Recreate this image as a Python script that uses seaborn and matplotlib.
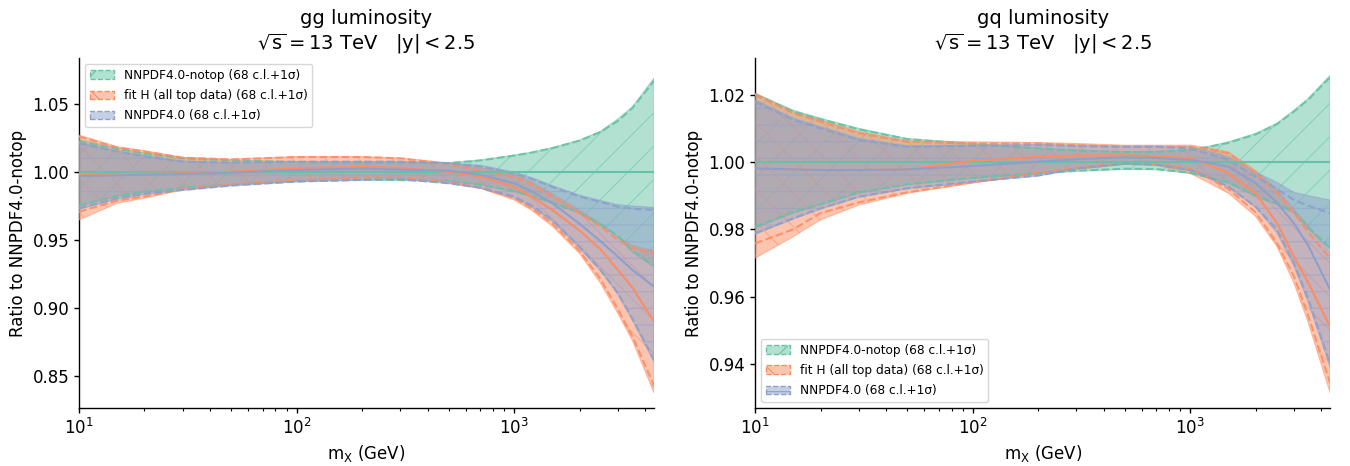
import numpy as np
import pandas as pd
import matplotlib
matplotlib.use("Agg")
import matplotlib.pyplot as plt
from matplotlib.patches import Patch
import seaborn as sns

# ---------------- data ----------------
mx = [10, 15, 20, 30, 50, 100, 200, 300, 500, 700, 1000, 1200, 1500, 2000, 2500, 3000, 3500, 4400]

series_names = ["NNPDF4.0-notop (68 c.l.+1σ)",
                "fit H (all top data) (68 c.l.+1σ)",
                "NNPDF4.0 (68 c.l.+1σ)"]

# gg luminosity
gg_notop_cen = [1.0] * 18
gg_notop_clhi = [1.024, 1.0175, 1.014, 1.0105, 1.0088, 1.0076, 1.0069, 1.0070, 1.0068, 1.0088, 1.0125, 1.0145, 1.018, 1.0235, 1.030, 1.039, 1.048, 1.069]
gg_notop_cllo = [0.975, 0.982, 0.985, 0.988, 0.9904, 0.9929, 0.9941, 0.9938, 0.9932, 0.9904, 0.9855, 0.982, 0.977, 0.9696, 0.961, 0.9525, 0.941, 0.930]
gg_notop_sdhi = [1.0225, 1.017, 1.0135, 1.010, 1.0085, 1.0073, 1.0067, 1.0068, 1.0065, 1.0085, 1.012, 1.0142, 1.0175, 1.023, 1.0295, 1.0375, 1.047, 1.067]
gg_notop_sdlo = [0.9755, 0.9825, 0.9855, 0.9885, 0.9907, 0.9931, 0.9943, 0.9940, 0.9935, 0.9907, 0.9858, 0.9823, 0.9775, 0.970, 0.9615, 0.953, 0.942, 0.931]

gg_fitH_cen = [0.9983, 0.9985, 0.9987, 0.999, 1.0002, 1.0027, 1.0038, 1.0030, 1.000, 0.9966, 0.989, 0.982, 0.972, 0.957, 0.943, 0.928, 0.915, 0.890]
gg_fitH_clhi = [1.0272, 1.0186, 1.0157, 1.0108, 1.0095, 1.0113, 1.0113, 1.0103, 1.0068, 1.003, 0.9985, 0.993, 0.984, 0.972, 0.962, 0.952, 0.946, 0.942]
gg_fitH_cllo = [0.9647, 0.977, 0.9807, 0.9868, 0.9904, 0.9936, 0.9958, 0.9955, 0.992, 0.988, 0.9794, 0.972, 0.960, 0.940, 0.918, 0.896, 0.876, 0.8375]
gg_fitH_sdhi = [1.026, 1.018, 1.015, 1.0105, 1.0092, 1.011, 1.011, 1.010, 1.0058, 1.001, 0.9966, 0.991, 0.982, 0.9696, 0.960, 0.950, 0.944, 0.940]
gg_fitH_sdlo = [0.9708, 0.979, 0.982, 0.9875, 0.9908, 0.9938, 0.9960, 0.9958, 0.9925, 0.9885, 0.981, 0.9735, 0.962, 0.942, 0.921, 0.899, 0.879, 0.843]

gg_nnpdf_cen = [0.997, 0.9975, 0.998, 0.9985, 0.9995, 1.0015, 1.0025, 1.0018, 1.001, 0.998, 0.9917, 0.986, 0.977, 0.962, 0.949, 0.9378, 0.928, 0.9157]
gg_nnpdf_clhi = [1.022, 1.0155, 1.012, 1.008, 1.007, 1.0077, 1.0077, 1.0078, 1.0067, 1.005, 1.0, 0.996, 0.990, 0.983, 0.979, 0.976, 0.975, 0.974]
gg_nnpdf_cllo = [0.9725, 0.980, 0.9835, 0.9865, 0.9898, 0.9928, 0.9940, 0.9945, 0.9915, 0.988, 0.981, 0.9745, 0.9637, 0.944, 0.927, 0.910, 0.891, 0.860]
gg_nnpdf_sdhi = [1.021, 1.015, 1.0115, 1.0076, 1.0069, 1.0076, 1.0076, 1.0076, 1.0064, 1.004, 0.999, 0.995, 0.989, 0.982, 0.978, 0.9745, 0.973, 0.972]
gg_nnpdf_sdlo = [0.9733, 0.9807, 0.984, 0.9868, 0.990, 0.993, 0.9942, 0.9948, 0.9917, 0.9885, 0.982, 0.9755, 0.9647, 0.945, 0.928, 0.911, 0.892, 0.862]

# gq luminosity
gq_notop_cen = [1.0] * 18
gq_notop_clhi = [1.0204, 1.0154, 1.013, 1.010, 1.007, 1.0055, 1.0042, 1.0036, 1.0031, 1.0032, 1.0037, 1.0046, 1.006, 1.0085, 1.0115, 1.0154, 1.019, 1.0258]
gq_notop_cllo = [0.9803, 0.9848, 0.9872, 0.9907, 0.9932, 0.9951, 0.9965, 0.9972, 0.9978, 0.9977, 0.9966, 0.9953, 0.9937, 0.9897, 0.9873, 0.9848, 0.980, 0.9739]
gq_notop_sdhi = [1.0200, 1.0150, 1.0127, 1.0097, 1.0068, 1.0053, 1.0040, 1.0034, 1.0029, 1.003, 1.0035, 1.0044, 1.0057, 1.0082, 1.0112, 1.015, 1.0186, 1.0252]
gq_notop_sdlo = [0.9807, 0.9852, 0.9875, 0.991, 0.9934, 0.9953, 0.9967, 0.9974, 0.998, 0.9979, 0.9968, 0.9955, 0.994, 0.990, 0.9877, 0.9852, 0.9805, 0.9745]

gq_fitH_cen = [0.9981, 0.9978, 0.9976, 0.9976, 0.9978, 1.0003, 1.0015, 1.0019, 1.002, 1.0017, 1.0011, 0.9993, 0.9966, 0.9907, 0.982, 0.9719, 0.964, 0.951]
gq_fitH_clhi = [1.0205, 1.015, 1.0125, 1.009, 1.0063, 1.006, 1.0058, 1.0055, 1.005, 1.005, 1.005, 1.0043, 1.003, 0.9975, 0.992, 0.986, 0.981, 0.973]
gq_fitH_cllo = [0.9714, 0.9778, 0.9828, 0.9872, 0.9907, 0.9937, 0.9965, 0.9978, 0.9993, 0.999, 0.9966, 0.994, 0.9907, 0.9838, 0.975, 0.964, 0.952, 0.9313]
gq_fitH_sdhi = [1.0199, 1.0145, 1.012, 1.0085, 1.006, 1.0055, 1.0055, 1.005, 1.0045, 1.0045, 1.0045, 1.0038, 1.0026, 0.9966, 0.991, 0.9848, 0.979, 0.9714]
gq_fitH_sdlo = [0.9758, 0.980, 0.9848, 0.988, 0.991, 0.994, 0.9967, 0.9982, 0.9998, 0.9994, 0.998, 0.9955, 0.992, 0.985, 0.976, 0.966, 0.954, 0.9343]

gq_nnpdf_cen = [0.9981, 0.9978, 0.9976, 0.9976, 0.9978, 0.9988, 1.0001, 1.0008, 1.0014, 1.0012, 1.0006, 0.9998, 0.9986, 0.9937, 0.988, 0.9818, 0.975, 0.962]
gq_nnpdf_clhi = [1.0185, 1.013, 1.0105, 1.007, 1.0048, 1.005, 1.0052, 1.005, 1.0047, 1.0047, 1.0045, 1.0033, 1.0015, 0.997, 0.994, 0.991, 0.990, 0.9887]
gq_nnpdf_cllo = [0.9785, 0.983, 0.986, 0.9895, 0.992, 0.994, 0.9958, 0.9978, 0.9993, 0.999, 0.9974, 0.9955, 0.9925, 0.9865, 0.979, 0.969, 0.958, 0.939]
gq_nnpdf_sdhi = [1.0179, 1.0125, 1.010, 1.0065, 1.0045, 1.0048, 1.005, 1.0047, 1.0045, 1.0045, 1.004, 1.0025, 1.0006, 0.9956, 0.992, 0.9887, 0.987, 0.9848]
gq_nnpdf_sdlo = [0.9788, 0.9833, 0.9862, 0.9897, 0.9922, 0.9942, 0.9960, 0.9981, 0.9995, 0.9992, 0.9976, 0.9957, 0.9927, 0.9867, 0.980, 0.970, 0.959, 0.940]

panels = [
    dict(title="gg luminosity",
         series=[(gg_notop_cen, gg_notop_cllo, gg_notop_clhi, gg_notop_sdlo, gg_notop_sdhi),
                 (gg_fitH_cen, gg_fitH_cllo, gg_fitH_clhi, gg_fitH_sdlo, gg_fitH_sdhi),
                 (gg_nnpdf_cen, gg_nnpdf_cllo, gg_nnpdf_clhi, gg_nnpdf_sdlo, gg_nnpdf_sdhi)],
         ylim=(0.8265, 1.0838), yticks=[0.85, 0.90, 0.95, 1.00, 1.05], legend_loc="upper left"),
    dict(title="gq luminosity",
         series=[(gq_notop_cen, gq_notop_cllo, gq_notop_clhi, gq_notop_sdlo, gq_notop_sdhi),
                 (gq_fitH_cen, gq_fitH_cllo, gq_fitH_clhi, gq_fitH_sdlo, gq_fitH_sdhi),
                 (gq_nnpdf_cen, gq_nnpdf_cllo, gq_nnpdf_clhi, gq_nnpdf_sdlo, gq_nnpdf_sdhi)],
         ylim=(0.9269, 1.0309), yticks=[0.94, 0.96, 0.98, 1.00, 1.02], legend_loc="lower left"),
]

# ---------------- style ----------------
sns.set_theme(style="ticks")
plt.rcParams["font.family"] = ["DejaVu Sans"]
plt.rcParams["mathtext.fontset"] = "dejavusans"
plt.rcParams["hatch.linewidth"] = 0.8
for k in ["text.color", "axes.labelcolor", "xtick.color", "ytick.color", "axes.edgecolor"]:
    plt.rcParams[k] = "black"
plt.rcParams["axes.linewidth"] = 1.0
plt.rcParams["xtick.major.width"] = 1.0
plt.rcParams["ytick.major.width"] = 1.0
plt.rcParams["xtick.minor.width"] = 0.8
plt.rcParams["xtick.major.size"] = 3.5
plt.rcParams["ytick.major.size"] = 3.5
plt.rcParams["xtick.minor.size"] = 2.0
plt.rcParams["xtick.major.pad"] = 3.5
plt.rcParams["ytick.major.pad"] = 3.5

colors = sns.color_palette("Set2", 3)
hatches = ["/", "\\", "-"]

fig = plt.figure(figsize=(13.5, 4.66), dpi=100)
axes = [fig.add_axes([0.0585, 0.1245, 0.426, 0.751]),
        fig.add_axes([0.5593, 0.1245, 0.426, 0.751])]

x = np.array(mx, dtype=float)
for ax, p in zip(axes, panels):
    handles = []
    for i, (cen, cllo, clhi, sdlo, sdhi) in enumerate(p["series"]):
        c = colors[i]
        ax.fill_between(x, cllo, clhi, facecolor=c, edgecolor=c, alpha=0.5,
                        hatch=hatches[i], linewidth=0.8, zorder=2 + i)
        df = pd.DataFrame({"mx": x, "cen": cen, "lo": sdlo, "hi": sdhi})
        sns.lineplot(data=df, x="mx", y="lo", ax=ax, color=c, linestyle="--",
                     linewidth=1.5, estimator=None, sort=False, zorder=5 + i, alpha=0.9)
        sns.lineplot(data=df, x="mx", y="hi", ax=ax, color=c, linestyle="--",
                     linewidth=1.5, estimator=None, sort=False, zorder=5 + i, alpha=0.9)
        sns.lineplot(data=df, x="mx", y="cen", ax=ax, color=c, linestyle="-",
                     linewidth=1.5, estimator=None, sort=False, zorder=8 + i)
        handles.append(Patch(facecolor=(*c, 0.5), edgecolor=c, hatch=hatches[i],
                             linestyle="--", linewidth=1.0, label=series_names[i]))
    ax.set_xscale("log")
    ax.set_xlim(10, 4400)
    ax.set_ylim(*p["ylim"])
    ax.set_yticks(p["yticks"])
    ax.set_yticklabels([f"{v:.2f}" for v in p["yticks"]])
    ax.tick_params(axis="both", labelsize=12)
    ax.set_xlabel(r"$\mathrm{m_X}$ (GeV)", fontsize=12)
    ax.set_ylabel("Ratio to NNPDF4.0-notop", fontsize=12)
    ax.set_title(p["title"] + "\n" + r"$\sqrt{\mathrm{s}} = 13$ TeV   $|\mathrm{y}| < 2.5$",
                 fontsize=14)
    leg = ax.legend(handles=handles, loc=p["legend_loc"], fontsize=8.7, frameon=True,
                    labelspacing=0.6)
    sns.despine(ax=ax)

fig.savefig("out.png", dpi=100)
